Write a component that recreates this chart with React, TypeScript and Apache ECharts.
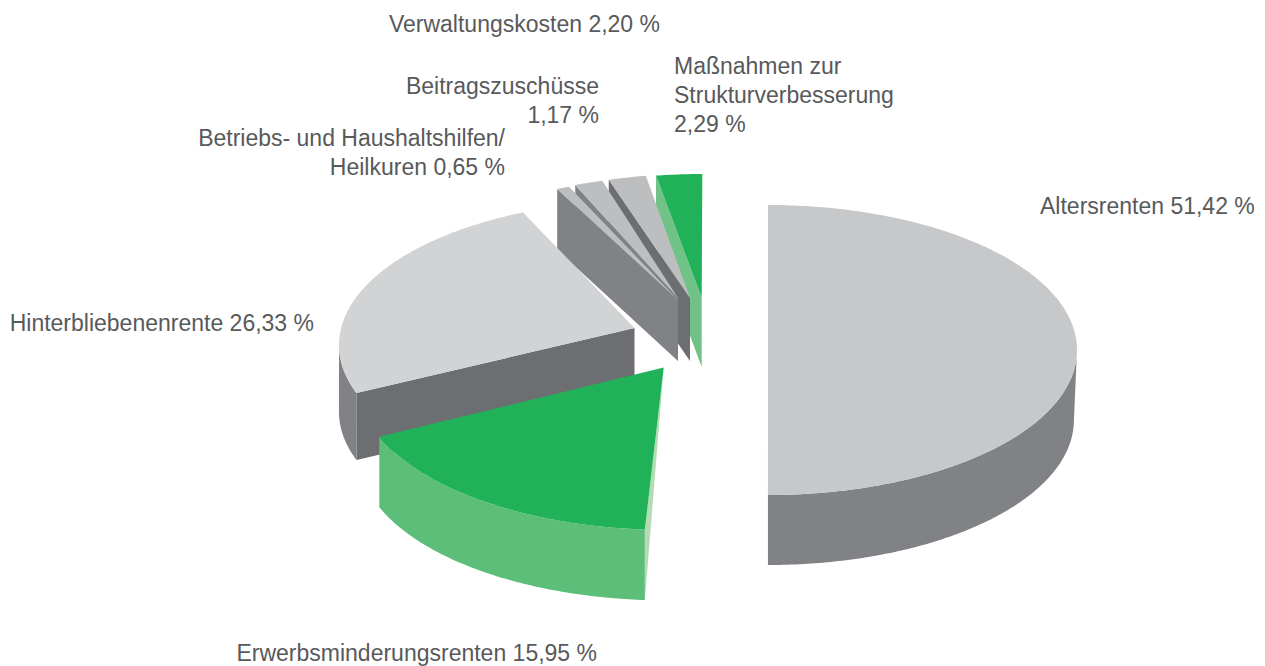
import React, { useEffect, useRef } from "react";
import * as echarts from "echarts";

const categories = [
  "Altersrenten",
  "Erwerbsminderungsrenten",
  "Hinterbliebenenrente",
  "Betriebs- und Haushaltshilfen/ Heilkuren",
  "Beitragszuschüsse",
  "Verwaltungskosten",
  "Maßnahmen zur Strukturverbesserung",
];
const values = [51.42, 15.95, 26.33, 0.65, 1.17, 2.2, 2.29];
const labelTexts = [
  "Altersrenten 51,42 %",
  "Erwerbsminderungsrenten 15,95 %",
  "Hinterbliebenenrente 26,33 %",
  "Betriebs- und Haushaltshilfen/\nHeilkuren 0,65 %",
  "Beitragszuschüsse\n1,17 %",
  "Verwaltungskosten 2,20 %",
  "Maßnahmen zur\nStrukturverbesserung\n2,29 %",
];

// Layout only (exploded-pie placement, tilt and colours), in the same order as categories.
const RX = 309;
const RY = 145;
const TILT = 0.468;
const apexX = [768, 663.7, 634.5, 678, 678, 690, 701.7];
const apexY = [334, 367.5, 328, 300, 298, 298, 298];
const centerX = [768, 668, 648, 680, 685, 695, 702];
const centerY = [350, 385, 345, 322, 320.5, 319, 319];
const startNudge = [0, -2, 0.9, -4.3, -2.7, -1.7, -1.7];
const endNudge = [-5.1, 0, -1.6, -3.9, -0.7, -1.4, 0.1];
const depth = [70, 70.5, 67, 61, 62, 63, 69];
const lowerScale = [0.99, 1, 1, 1, 1, 1, 1];
const topColor = ["#c7c8ca", "#21b259", "#d1d3d4", "#bcbec0", "#bcbec0", "#bcbec0", "#21b259"];
const outerColor = ["#808285", "#5dbe7a", "#808285", "#808285", "#808285", "#808285", "#5dbe7a"];
const radialColor = [null, "#b3dbb4", "#6d6e71", "#808285", "#808285", "#6d6e71", "#71c287"];
const triangularWall = [false, true, false, false, false, false, false];
const drawOrder = [0, 6, 5, 4, 3, 2, 1];

const labelAnchor: [number, number, "left" | "right"][] = [
  [1040, 206, "left"],
  [597, 653, "right"],
  [314, 323, "right"],
  [505, 152, "right"],
  [599, 100.5, "right"],
  [660, 24, "right"],
  [674, 95, "left"],
];

const cumulative: number[] = [];
values.reduce((sum, v) => {
  cumulative.push(sum);
  return sum + v;
}, 0);

function rayToEllipse(i: number, deg: number): [number, number] {
  const t = (deg * Math.PI) / 180;
  const dx = Math.sin(t);
  const dy = -Math.cos(t) * TILT;
  const ox = apexX[i] - centerX[i];
  const oy = apexY[i] - centerY[i];
  const a = (dx * dx) / (RX * RX) + (dy * dy) / (RY * RY);
  const b = 2 * ((ox * dx) / (RX * RX) + (oy * dy) / (RY * RY));
  const c = (ox * ox) / (RX * RX) + (oy * oy) / (RY * RY) - 1;
  const s = (-b + Math.sqrt(b * b - 4 * a * c)) / (2 * a);
  return [apexX[i] + s * dx, apexY[i] + s * dy];
}

function renderItem(_params: any, api: any) {
  const i = api.value(2) as number;
  const start = (api.value(0) as number) * 3.6 + startNudge[i];
  const end = (api.value(1) as number) * 3.6 + endNudge[i];
  const steps = Math.max(6, Math.ceil((end - start) * 1.5));
  const arc: [number, number][] = [];
  for (let k = 0; k <= steps; k++) arc.push(rayToEllipse(i, start + ((end - start) * k) / steps));
  const apex: [number, number] = [apexX[i], apexY[i]];
  const d = depth[i];
  const children: any[] = [];

  const front = arc.filter((p) => p[1] >= centerY[i]);
  if (front.length > 1) {
    const lower = front
      .map((p) => [centerX[i] + (p[0] - centerX[i]) * lowerScale[i], p[1] + d])
      .reverse();
    children.push({
      type: "polygon",
      shape: { points: [...front, ...lower] },
      style: { fill: outerColor[i] },
    });
  }
  const radial = radialColor[i];
  if (radial) {
    const o = arc[0];
    const points = triangularWall[i]
      ? [apex, o, [o[0], o[1] + d]]
      : [apex, o, [o[0], o[1] + d], [apex[0], apex[1] + d]];
    children.push({ type: "polygon", shape: { points }, style: { fill: radial } });
  }
  children.push({
    type: "polygon",
    shape: { points: [apex, ...arc] },
    style: { fill: topColor[i] },
  });
  return { type: "group", children };
}

export default function App() {
  const ref = useRef<HTMLDivElement>(null);
  useEffect(() => {
    const chart = echarts.init(ref.current!, undefined, { renderer: "svg" });
    chart.setOption({
      animation: false,
      backgroundColor: "#ffffff",
      tooltip: { show: false },
      series: [
        {
          type: "custom",
          coordinateSystem: "none",
          silent: true,
          renderItem,
          data: drawOrder.map((i) => ({
            name: categories[i],
            value: [cumulative[i], cumulative[i] + values[i], i],
          })),
        },
      ],
      graphic: labelTexts.map((text, i) => ({
        type: "text",
        silent: true,
        x: labelAnchor[i][0],
        y: labelAnchor[i][1],
        style: {
          text,
          fill: "#58595b",
          font: '23px "Liberation Sans", Arial, sans-serif',
          lineHeight: text.includes("\n") ? 29 : 24,
          align: labelAnchor[i][2],
          verticalAlign: "middle",
        },
      })),
    });
    return () => chart.dispose();
  }, []);
  return (
    <div
      ref={ref}
      style={{ position: "absolute", left: 0, top: 0, width: 1265, height: 666 }}
    />
  );
}
